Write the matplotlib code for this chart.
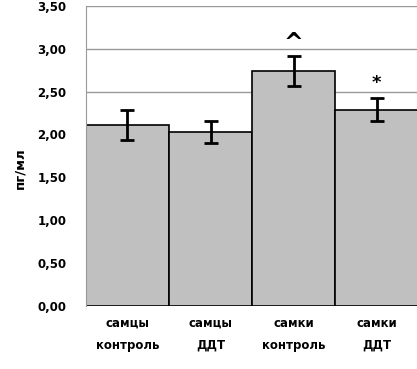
import matplotlib
matplotlib.use('Agg')
from matplotlib import pyplot as plt
from matplotlib.ticker import FuncFormatter

# data
groups = ['самцы\nконтроль', 'самцы\nДДТ', 'самки\nконтроль', 'самки\nДДТ']
means = [2.11, 2.03, 2.74, 2.29]
errors = [0.18, 0.13, 0.17, 0.13]
marks = ['^', '*']
mark_pos = [2, 3]
y_ticks = [0.0, 0.5, 1.0, 1.5, 2.0, 2.5, 3.0, 3.5]

plt.rcParams['font.family'] = ['DejaVu Sans']
plt.rcParams['font.weight'] = 'bold'

fig = plt.figure(figsize=(4.17, 3.69), dpi=100)
ax = fig.add_axes([0.206, 0.171, 0.797, 0.813])

x = list(range(len(groups)))
ax.bar(x, means, width=1.0, color='#c0c0c0', edgecolor='black', linewidth=1.2, zorder=2)
ax.errorbar(x, means, yerr=errors, fmt='none', ecolor='black', elinewidth=2,
            capsize=5, capthick=2, zorder=3)

# significance marks above the error bars
for i, s in zip(mark_pos, marks):
    top = means[i] + errors[i]
    if s == '^':
        ax.text(i, top + 0.02, s, ha='center', va='bottom', fontsize=17, fontweight='bold')
    else:
        ax.text(i, top + 0.07, s, ha='center', va='bottom', fontsize=13, fontweight='bold')

ax.set_xlim(-0.5, 3.5)
ax.set_ylim(0, 3.5)
ax.set_yticks(y_ticks)
ax.yaxis.set_major_formatter(FuncFormatter(lambda v, p: f'{v:.2f}'.replace('.', ',')))
ax.yaxis.grid(True, color='#999999', linewidth=1, zorder=0)
ax.set_axisbelow(True)
ax.set_xticks(x)
ax.set_xticklabels(groups, fontsize=8.5, fontweight='bold', linespacing=1.9)
ax.tick_params(axis='both', length=0, pad=8, labelsize=8.5)
ax.tick_params(axis='y', pad=14)
ax.set_ylabel('пг/мл', fontsize=9.5, fontweight='bold')
ax.yaxis.set_label_coords(-0.18, 0.46)

for side in ['top', 'right', 'bottom']:
    ax.spines[side].set_visible(False)
ax.spines['left'].set_color('#999999')

fig.savefig('out.png', dpi=100)
